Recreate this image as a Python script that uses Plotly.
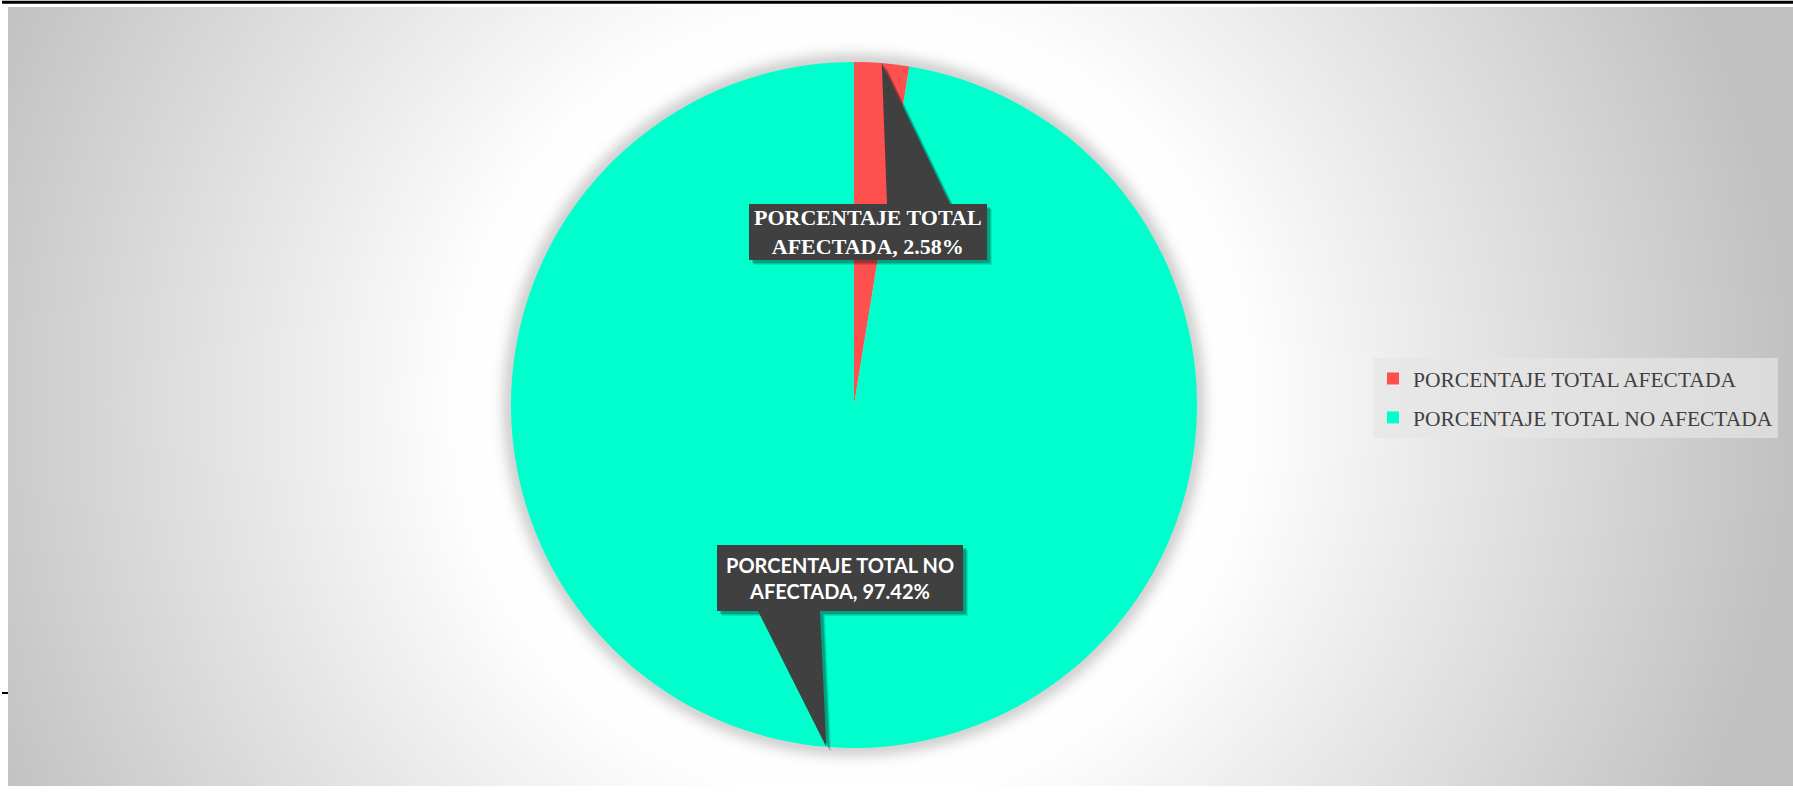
import base64
import struct
import zlib

import numpy as np
import plotly.graph_objects as go

# ---------------- data ----------------
labels = ["PORCENTAJE TOTAL AFECTADA", "PORCENTAJE TOTAL NO AFECTADA"]
values = [2.58, 97.42]
colors = ["#FF5050", "#00FFCC"]

# ---------------- geometry / style ----------------
W, H = 1793, 795
CX, CY, R = 854.0, 405.0, 343.0  # pie centre / radius in pixels


def px(x):
    return x / W


def py(y):
    return 1 - y / H


def path(points):
    s = "M " + " L ".join(f"{px(x):.5f},{py(y):.5f}" for x, y in points) + " Z"
    return s


# ---------------- background gradient image (radial, with pie glow) -------------
gx0, gy0, gx1, gy1 = 8, 7, W, 786
gw, gh = gx1 - gx0, gy1 - gy0
xs = gx0 + np.arange(gw) + 0.5
ys = gy0 + np.arange(gh) + 0.5
XX, YY = np.meshgrid(xs, ys)
rr = np.sqrt((XX - CX) ** 2 + (YY - CY) ** 2)
r0, r1 = 390.0, 950.0
base = 255 - 63 * np.clip((rr - r0) / (r1 - r0), 0, 1)
glow = 42 * np.exp(-(((rr - R) / 11.0) ** 2))
glow[rr < R] = 42
img = np.clip(base - glow, 0, 255).astype(np.uint8)


def png_gray(arr):
    h, w = arr.shape
    a = arr.astype(np.int16)
    sub = (np.diff(a, axis=1, prepend=0) % 256).astype(np.uint8)
    rows = np.hstack([np.ones((h, 1), dtype=np.uint8), sub])
    raw = rows.tobytes()

    def chunk(t, d):
        return struct.pack(">I", len(d)) + t + d + struct.pack(">I", zlib.crc32(t + d) & 0xFFFFFFFF)

    return (b"\x89PNG\r\n\x1a\n"
            + chunk(b"IHDR", struct.pack(">IIBBBBB", w, h, 8, 0, 0, 0, 0))
            + chunk(b"IDAT", zlib.compress(raw, 9))
            + chunk(b"IEND", b""))


bg_uri = "data:image/png;base64," + base64.b64encode(png_gray(img)).decode()

# ---------------- figure ----------------
fig = go.Figure()

dom_y = [py(CY + R), py(CY - R)]
dom_x = [px(CX) - 0.3, px(CX) + 0.3]

fig.add_trace(go.Pie(
    labels=labels,
    values=values,
    marker=dict(colors=colors, line=dict(width=0)),
    sort=False,
    direction="clockwise",
    rotation=0,
    textinfo="none",
    showlegend=False,
    domain=dict(x=dom_x, y=dom_y),
))

# legend entries (one per slice)
for i, (lab, col) in enumerate(zip(labels, colors)):
    fig.add_trace(go.Scatter(
        x=[None], y=[None], mode="markers", name=lab,
        marker=dict(symbol="square", size=9, color=col),
        legendgroup=f"g{i}", showlegend=True,
    ))

# callouts: tip at the middle of each slice on the outer edge
cum = np.cumsum([0] + values)
tot = sum(values)
tips = []
for i in range(len(values)):
    ang = np.deg2rad((cum[i] + values[i] / 2) / tot * 360)
    tips.append((CX + R * np.sin(ang), CY - R * np.cos(ang)))

boxes = [
    dict(x0=749, y0=204, x1=987, y1=260, base=(887, 950), side="top",
         font=dict(family="Liberation Serif", size=22, color="white")),
    dict(x0=717, y0=545, x1=963, y1=611, base=(758, 820), side="bottom",
         font=dict(family="Lato", size=20, color="white")),
]

shapes = []
annotations = []
for i, b in enumerate(boxes):
    tx, ty = tips[i]
    if b["side"] == "top":
        pts = [(b["x0"], b["y0"]), (b["base"][0], b["y0"]), (tx, ty), (b["base"][1], b["y0"]),
               (b["x1"], b["y0"]), (b["x1"], b["y1"]), (b["x0"], b["y1"])]
    else:
        pts = [(b["x0"], b["y0"]), (b["x1"], b["y0"]), (b["x1"], b["y1"]), (b["base"][1], b["y1"]),
               (tx, ty), (b["base"][0], b["y1"]), (b["x0"], b["y1"])]
    for off, alpha in [(5, 0.10), (4, 0.14), (3, 0.18)]:
        shapes.append(dict(type="path", xref="paper", yref="paper",
                           path=path([(x + off, y + off) for x, y in pts]),
                           fillcolor=f"rgba(0,0,0,{alpha})", line=dict(width=0), layer="above"))
    shapes.append(dict(type="path", xref="paper", yref="paper", path=path(pts),
                       fillcolor="#404040", line=dict(width=0), layer="above"))
    head, tail = labels[i].rsplit(" ", 1)
    annotations.append(dict(
        xref="paper", yref="paper",
        x=px((b["x0"] + b["x1"]) / 2), y=py((b["y0"] + b["y1"]) / 2),
        xanchor="center", yanchor="middle", showarrow=False,
        text=f"<b>{head}<br>{tail}, {values[i]:.2f}%</b>",
        font=b["font"], align="center",
    ))

# frame decorations
shapes.append(dict(type="line", xref="paper", yref="paper", x0=px(2), x1=1, y0=py(2.2), y1=py(2.2),
                   line=dict(color="black", width=3), layer="above"))
shapes.append(dict(type="line", xref="paper", yref="paper", x0=px(2), x1=px(8), y0=py(693), y1=py(693),
                   line=dict(color="black", width=2), layer="above"))

fig.update_layout(
    width=W, height=H,
    margin=dict(l=0, r=0, t=0, b=0),
    paper_bgcolor="white",
    plot_bgcolor="rgba(0,0,0,0)",
    xaxis=dict(visible=False, range=[0, 1], fixedrange=True),
    yaxis=dict(visible=False, range=[0, 1], fixedrange=True),
    images=[dict(source=bg_uri, xref="paper", yref="paper",
                 x=px(gx0), y=py(gy0), sizex=px(gx1) - px(gx0), sizey=py(gy0) - py(gy1),
                 xanchor="left", yanchor="top", sizing="stretch", layer="below")],
    shapes=shapes,
    annotations=annotations,
    legend=dict(
        x=px(1373), y=py(358), xanchor="left", yanchor="top",
        bgcolor="rgba(230,230,230,0.7)",
        font=dict(family="Liberation Serif", size=21.5, color="#404040"),
        tracegroupgap=8,
        itemsizing="constant",
    ),
    showlegend=True,
)

fig.write_html("out.html", config={"displayModeBar": False},
               post_script="document.body.style.margin='0';document.body.style.overflow='hidden';")
